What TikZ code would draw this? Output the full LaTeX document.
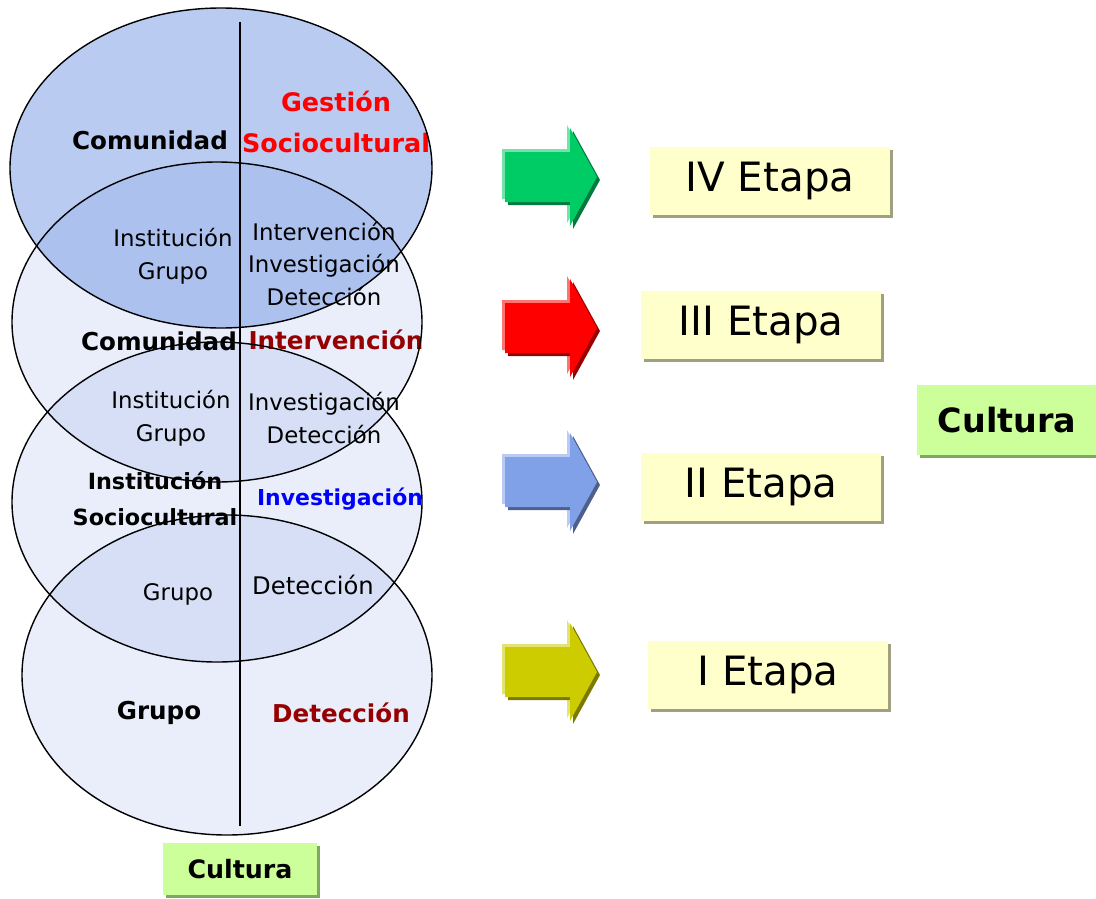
\documentclass[tikz,border=0pt]{standalone}
\usepackage{fontspec}
\setmainfont{DejaVu Sans}
\usetikzlibrary{shadows}

\definecolor{elipsearriba}{RGB}{186,203,242}
\definecolor{elipseazul}{RGB}{98,134,219}
\definecolor{rojooscuro}{RGB}{150,0,0}
\definecolor{cajaamarilla}{RGB}{255,255,204}
\definecolor{sombraamarilla}{RGB}{160,160,128}
\definecolor{cajaverde}{RGB}{204,255,153}
\definecolor{sombraverde}{RGB}{128,166,96}
\definecolor{flechaverde}{RGB}{0,204,102}
\definecolor{flecharoja}{RGB}{255,0,0}
\definecolor{flechaazul}{RGB}{128,160,232}
\definecolor{flechaamarilla}{RGB}{204,204,0}

\tikzset{
  texto/.style={font=\fontsize{13}{18.5}\selectfont, align=center, inner sep=0pt},
  negrita/.style={font=\bfseries\fontsize{14}{21}\selectfont, align=center, inner sep=0pt},
  etapa/.style={fill=cajaamarilla, minimum width=4.8cm, minimum height=1.38cm,
    font=\fontsize{23}{28}\selectfont,
    drop shadow={shadow xshift=0.06cm, shadow yshift=-0.06cm, fill=sombraamarilla, opacity=1}},
  cultura/.style={fill=cajaverde, font=\bfseries,
    drop shadow={shadow xshift=0.06cm, shadow yshift=-0.06cm, fill=sombraverde, opacity=1}},
  flecha/.pic={\fill (0,-25) -- (65,-25) -- (65,-49) -- (92,0) -- (65,49) -- (65,25) -- (0,25) -- cycle;}
}

\begin{document}
\begin{tikzpicture}[x=0.02cm, y=-0.02cm]
  \useasboundingbox (0,0) rectangle (1096,899);

  % rellenos de las elipses
  \fill[elipsearriba] (221,168) ellipse [x radius=211, y radius=160];
  \foreach \cx/\cy in {217/322, 217/502, 227/675}
    \fill[elipseazul, fill opacity=0.14] (\cx,\cy) ellipse [x radius=205, y radius=160];

  % textos de las elipses
  \node[negrita] (comunidadA) at (150,140) {Comunidad};
  \node[negrita, text=red, font=\bfseries\fontsize{14.5}{23}\selectfont] (gestion) at (336,122) {Gestión\\Sociocultural};
  \node[texto] (instA) at (173,256) {Institución\\Grupo};
  \node[texto] (intervA) at (324,264) {Intervención\\Investigación\\Detección};
  \node[negrita] (comunidadB) at (159,341) {Comunidad};
  \node[negrita, text=rojooscuro] (intervencion) at (336,340) {Intervención};
  \node[texto] (instB) at (171,418) {Institución\\Grupo};
  \node[texto] (investB) at (324,418) {Investigación\\Detección};
  \node[negrita, font=\bfseries\fontsize{12.7}{20.5}\selectfont] (instSocio) at (155,499) {Institución\\Sociocultural};
  \node[negrita, text=blue, font=\bfseries\fontsize{12.5}{15}\selectfont] (investigacion) at (340,499) {Investigación};
  \node[texto] (grupoC) at (178,594) {Grupo};
  \node[texto, font=\fontsize{13.8}{18}\selectfont] (deteccC) at (313,585) {Detección};
  \node[negrita] (grupo) at (159,713) {Grupo};
  \node[negrita, text=rojooscuro] (deteccion) at (341,713) {Detección};

  % bordes de las elipses y eje
  \draw[thick] (221,168) ellipse [x radius=211, y radius=160];
  \foreach \cx/\cy in {217/322, 217/502, 227/675}
    \draw[thick] (\cx,\cy) ellipse [x radius=205, y radius=160];
  \coordinate (ejearriba) at (240,22);
  \coordinate (ejeabajo) at (240,826);
  \draw[thick] (ejearriba) -- (ejeabajo);

  \node[cultura, minimum width=3.1cm, minimum height=1.04cm, font=\bfseries\fontsize{14.4}{17}\selectfont] (culturaAbajo) at (240,869) {Cultura};

  % flechas
  \foreach \yc/\col in {177/flechaverde, 328/flecharoja, 482/flechaazul, 672/flechaamarilla} {
    \pic[fill=\col!55!white] at (502,\yc-3) {flecha};
    \pic[fill=\col!60!black] at (508,\yc+3) {flecha};
    \pic[fill=\col] at (505,\yc) {flecha};
  }

  % etapas
  \node[etapa] (etapa4) at (770,181) {IV Etapa};
  \node[etapa] (etapa3) at (761,325) {III Etapa};
  \node[etapa] (etapa2) at (761,487) {II Etapa};
  \node[etapa] (etapa1) at (768,675) {I Etapa};

  \node[cultura, minimum width=3.6cm, minimum height=1.42cm, font=\bfseries\fontsize{19}{23}\selectfont] (culturaDer) at (1007,420) {Cultura};
\end{tikzpicture}
\end{document}
